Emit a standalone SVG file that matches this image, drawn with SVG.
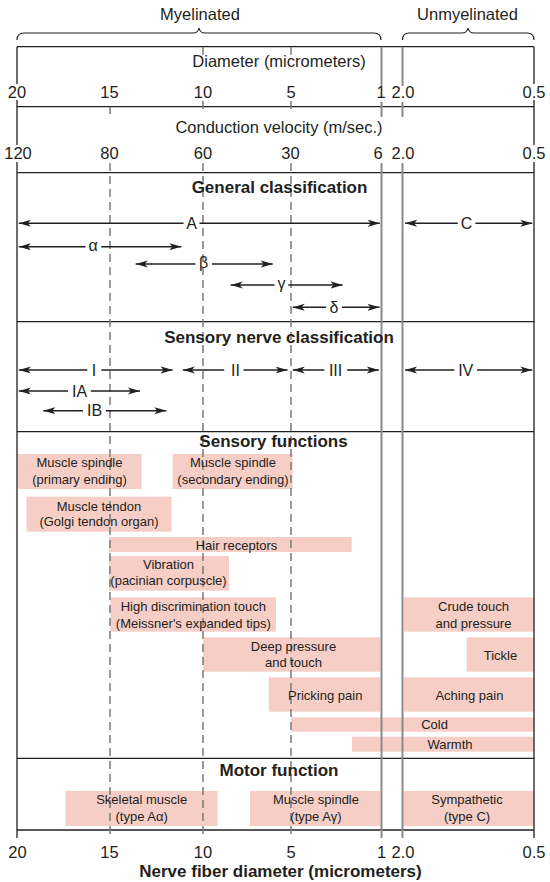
<svg xmlns="http://www.w3.org/2000/svg" width="550" height="882" viewBox="0 0 550 882">
<style>
text{font-family:"Liberation Sans",Arial,sans-serif;fill:#231f20}
.num{font-size:16.5px;text-anchor:middle}
.hd{font-size:16.5px}
.bold{font-size:17px;font-weight:bold;text-anchor:middle}
.lab{font-size:16px;text-anchor:middle}
.bx{font-size:13px;text-anchor:middle}
.frame{stroke:#231f20;stroke-width:1.3;fill:none}
.solid{stroke:#8a8a8a;stroke-width:2;fill:none}
.dash{stroke:#7a7a7a;stroke-width:1.5;stroke-dasharray:8 5;fill:none}
.box{fill:#f6cec6}
.arr{stroke:#231f20;stroke-width:1.6;fill:none;marker-end:url(#ah)}
.brace{stroke:#231f20;stroke-width:1.2;fill:none}
</style>
<defs>
<marker id="ah" viewBox="0 0 12 8" refX="12" refY="4" markerWidth="12" markerHeight="8" markerUnits="userSpaceOnUse" orient="auto">
<path d="M0,0.5 L12,4 L0,7.5 L3,4 z" fill="#231f20"/>
</marker>
</defs>
<rect width="550" height="882" fill="#fff"/>

<g id="header">
<text class="hd" x="200" y="20" text-anchor="middle">Myelinated</text>
<text class="hd" x="467.5" y="20" text-anchor="middle">Unmyelinated</text>
<path class="brace" d="M17,40 Q17,33 24,33 L193,33 Q198,33 199,28 Q200,33 205,33 L374,33 Q381,33 381,40"/>
<path class="brace" d="M402.5,40 Q402.5,33 409,33 L462,33 Q467,33 468,28 Q469,33 474,33 L527,33 Q534,33 534,40"/>
<text class="hd" x="279" y="67" text-anchor="middle">Diameter (micrometers)</text>
<text class="num" x="17" y="97.5">20</text>
<text class="num" x="109.5" y="97.5">15</text>
<text class="num" x="203" y="97.5">10</text>
<text class="num" x="291" y="97.5">5</text>
<text class="num" x="381" y="97.5">1</text>
<text class="num" x="403" y="97.5">2.0</text>
<text class="num" x="534" y="97.5">0.5</text>
<text class="hd" x="279" y="133" text-anchor="middle">Conduction velocity (m/sec.)</text>
<text class="num" x="18" y="158.5">120</text>
<text class="num" x="109.5" y="158.5">80</text>
<text class="num" x="203" y="158.5">60</text>
<text class="num" x="290.5" y="158.5">30</text>
<text class="num" x="378" y="158.5">6</text>
<text class="num" x="403" y="158.5">2.0</text>
<text class="num" x="534" y="158.5">0.5</text>
</g>

<g id="sensory-boxes">
<rect class="box" x="17.7" y="454" width="124" height="35"/>
<rect class="box" x="172.6" y="454" width="120" height="35"/>
<rect class="box" x="26.5" y="496.7" width="145" height="35"/>
<rect class="box" x="109" y="537" width="242.7" height="15"/>
<rect class="box" x="109" y="556" width="120" height="34.7"/>
<rect class="box" x="110.4" y="597.3" width="165.5" height="34.4"/>
<rect class="box" x="404" y="597.3" width="130" height="34.4"/>
<rect class="box" x="203.2" y="637.3" width="177.3" height="34.4"/>
<rect class="box" x="466.6" y="637.3" width="67.4" height="34.4"/>
<rect class="box" x="268.8" y="677.3" width="111.7" height="34.4"/>
<rect class="box" x="404" y="677.3" width="130" height="34.4"/>
<rect class="box" x="291" y="717.3" width="243" height="14.4"/>
<rect class="box" x="352" y="736.7" width="182" height="15"/>
</g>
<g id="motor-boxes">
<rect class="box" x="65.5" y="791" width="152" height="35"/>
<rect class="box" x="249.9" y="791" width="130.6" height="35"/>
<rect class="box" x="403.4" y="791" width="130.6" height="35"/>
</g>

<g id="grid">
<line class="frame" x1="17" y1="46.7" x2="534" y2="46.7"/>
<line class="frame" x1="17" y1="106.7" x2="534" y2="106.7"/>
<line class="frame" x1="17" y1="172.7" x2="534" y2="172.7"/>
<line class="frame" x1="17" y1="321.7" x2="534" y2="321.7"/>
<line class="frame" x1="17" y1="431.7" x2="534" y2="431.7"/>
<line class="frame" x1="17" y1="758.3" x2="534" y2="758.3"/>
<line class="frame" x1="17" y1="830" x2="534" y2="830"/>
<path class="frame" d="M17,46.7 V84 M17,100 V145 M17,162 V838 M534,46.7 V84 M534,100 V145 M534,162 V838"/>
<path class="solid" d="M381.5,46.7 V86 M381.5,102 V117 M381.5,163 V838 M402.5,46.7 V86 M402.5,102 V117 M402.5,163 V838"/>
<path class="dash" d="M203,46.7 V55 M203,101 V114 M203,163 V838 M291,46.7 V55 M291,101 V114 M291,163 V838 M110,106.7 V114 M110,163 V838"/>
</g>

<g id="general-classification">
<text class="bold" x="279.5" y="192.5">General classification</text>
<line class="arr" x1="183.5" y1="223.3" x2="18.8" y2="223.3"/>
<line class="arr" x1="199.5" y1="223.3" x2="379.8" y2="223.3"/>
<text class="lab" x="191.5" y="229">A</text>
<line class="arr" x1="457.8" y1="223.3" x2="405.1" y2="223.3"/>
<line class="arr" x1="475.4" y1="223.3" x2="532.3" y2="223.3"/>
<text class="lab" x="466.6" y="229">C</text>
<line class="arr" x1="85.5" y1="246.7" x2="18.8" y2="246.7"/>
<line class="arr" x1="101.3" y1="246.7" x2="181.4" y2="246.7"/>
<text class="lab" x="93" y="251">α</text>
<line class="arr" x1="195.4" y1="264" x2="135.7" y2="264"/>
<line class="arr" x1="212" y1="264" x2="272.7" y2="264"/>
<text class="lab" x="203.7" y="268">β</text>
<line class="arr" x1="274.5" y1="285" x2="230.6" y2="285"/>
<line class="arr" x1="288.2" y1="285" x2="342.6" y2="285"/>
<text class="lab" x="281.4" y="288.5">γ</text>
<line class="arr" x1="326.1" y1="307.3" x2="292.7" y2="307.3"/>
<line class="arr" x1="341.9" y1="307.3" x2="379.5" y2="307.3"/>
<text class="lab" x="334" y="313">δ</text>
</g>

<g id="sensory-nerve-classification">
<text class="bold" x="279" y="343">Sensory nerve classification</text>
<line class="arr" x1="87.3" y1="370" x2="18.8" y2="370"/>
<line class="arr" x1="101.3" y1="370" x2="172.6" y2="370"/>
<text class="lab" x="94" y="375.7">I</text>
<line class="arr" x1="224.2" y1="370" x2="182.8" y2="370"/>
<line class="arr" x1="243.6" y1="370" x2="287.5" y2="370"/>
<text class="lab" x="235.5" y="375.7">II</text>
<line class="arr" x1="324.3" y1="370" x2="292.7" y2="370"/>
<line class="arr" x1="347.2" y1="370" x2="378.8" y2="370"/>
<text class="lab" x="335.6" y="375.7">III</text>
<line class="arr" x1="454.3" y1="370" x2="405.1" y2="370"/>
<line class="arr" x1="477.1" y1="370" x2="532.3" y2="370"/>
<text class="lab" x="465.7" y="375.7">IV</text>
<line class="arr" x1="68" y1="391" x2="18.8" y2="391"/>
<line class="arr" x1="90.8" y1="391" x2="139.9" y2="391"/>
<text class="lab" x="79.5" y="396.7">IA</text>
<line class="arr" x1="83" y1="410.7" x2="43.3" y2="410.7"/>
<line class="arr" x1="105.9" y1="410.7" x2="166.3" y2="410.7"/>
<text class="lab" x="94.5" y="416.4">IB</text>
</g>

<g id="sensory-functions">
<text class="bold" x="273.5" y="447">Sensory functions</text>
<text class="bx" x="79.5" y="467">Muscle spindle</text>
<text class="bx" x="79.5" y="483.5">(primary ending)</text>
<text class="bx" x="233" y="467">Muscle spindle</text>
<text class="bx" x="233" y="483.5">(secondary ending)</text>
<text class="bx" x="99" y="510.5">Muscle tendon</text>
<text class="bx" x="99" y="526">(Golgi tendon organ)</text>
<text class="bx" x="236.5" y="549.5">Hair receptors</text>
<text class="bx" x="168.5" y="569">Vibration</text>
<text class="bx" x="168.5" y="585">(pacinian corpuscle)</text>
<text class="bx" x="193.3" y="611">High discrimination touch</text>
<text class="bx" x="193.3" y="627.5">(Meissner's expanded tips)</text>
<text class="bx" x="473.5" y="611">Crude touch</text>
<text class="bx" x="473.5" y="627.5">and pressure</text>
<text class="bx" x="293.5" y="651">Deep pressure</text>
<text class="bx" x="293.5" y="667">and touch</text>
<text class="bx" x="500.5" y="659.5">Tickle</text>
<text class="bx" x="325.2" y="699.5">Pricking pain</text>
<text class="bx" x="469.4" y="699.5">Aching pain</text>
<text class="bx" x="434.5" y="728.5">Cold</text>
<text class="bx" x="450" y="748.5">Warmth</text>
</g>

<g id="motor-function">
<text class="bold" x="279" y="776">Motor function</text>
<text class="bx" x="141.7" y="803.5">Skeletal muscle</text>
<text class="bx" x="141.7" y="820.5">(type Aα)</text>
<text class="bx" x="316" y="803.5">Muscle spindle</text>
<text class="bx" x="316" y="820.5">(type Aγ)</text>
<text class="bx" x="467" y="803.5">Sympathetic</text>
<text class="bx" x="467" y="820.5">(type C)</text>
</g>

<g id="bottom-axis">
<text class="num" x="17.5" y="858">20</text>
<text class="num" x="109.5" y="858">15</text>
<text class="num" x="203" y="858">10</text>
<text class="num" x="291" y="858">5</text>
<text class="num" x="381.5" y="858">1</text>
<text class="num" x="403" y="858">2.0</text>
<text class="num" x="534" y="858">0.5</text>
<text class="bold" x="280.5" y="876.5">Nerve fiber diameter (micrometers)</text>
</g>
</svg>
